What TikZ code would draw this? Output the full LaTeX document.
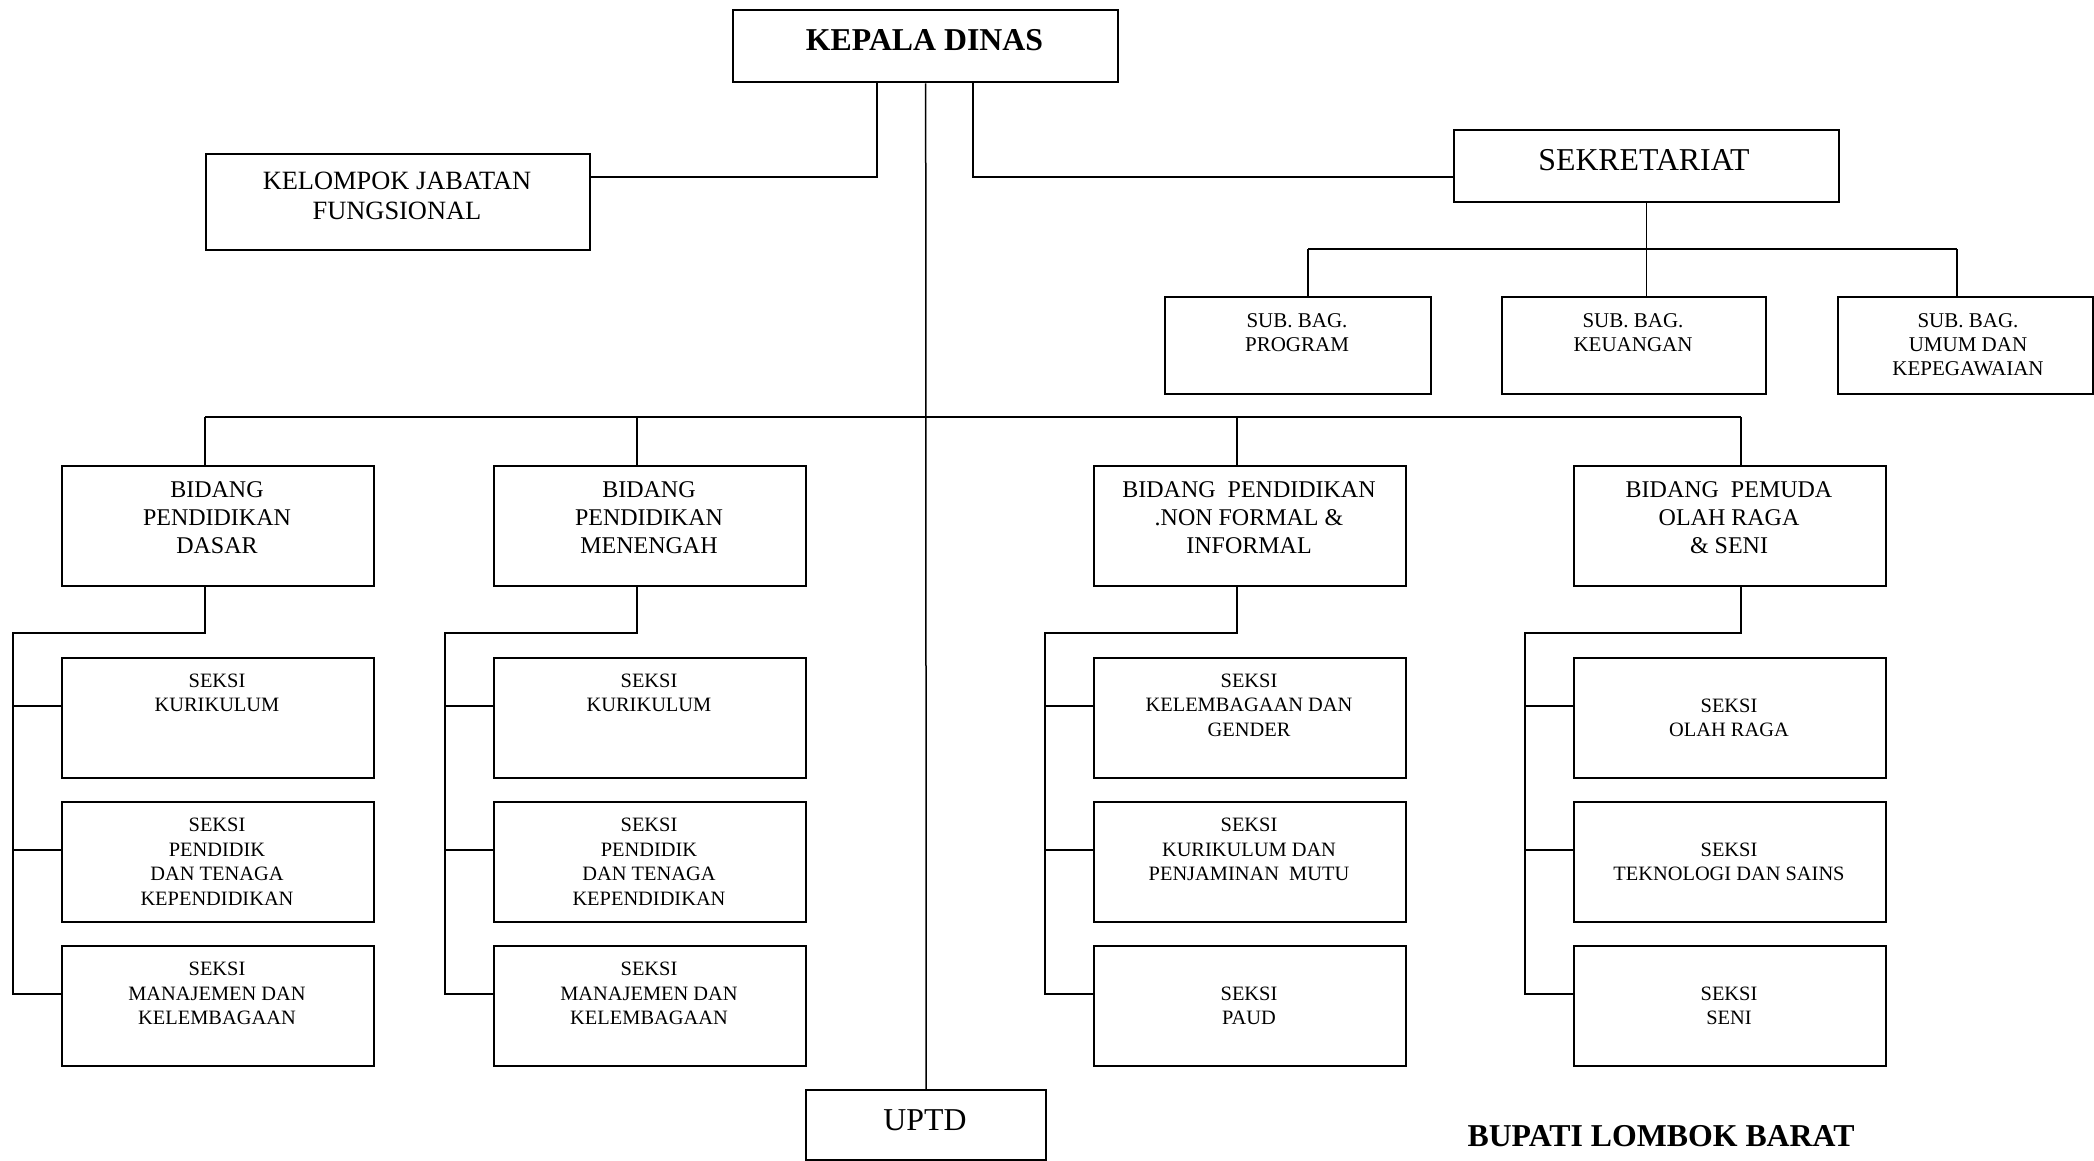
\documentclass[tikz,border=0pt]{standalone}
\usepackage{fontspec}
\setmainfont{Liberation Serif}
\newcommand{\obox}[5]{\node[box, minimum width={(#4-#2)*0.5pt}, minimum height={(#5-#3)*0.5pt}, anchor=north west] (#1) at (#2,#3) {};}
\begin{document}
\begin{tikzpicture}[x=0.5pt,y=-0.5pt,
  box/.style={draw, line width=1.2pt, inner sep=0pt, rectangle},
  conn/.style={line width=1.1pt},
  thinl/.style={line width=0.75pt},
  txt/.style={inner sep=0pt, align=center, anchor=north},
  seks/.style={txt, font=\fontsize{10.2}{12.3}\selectfont},
  bid/.style={txt, font=\fontsize{12}{13.85}\selectfont},
  subb/.style={txt, font=\fontsize{10.5}{12.1}\selectfont},
  kjf/.style={txt, font=\fontsize{13.2}{15.3}\selectfont},
  big/.style={txt, font=\fontsize{15.9}{18}\selectfont},
  bigb/.style={txt, font=\fontsize{15.9}{18}\selectfont\bfseries},
]
\useasboundingbox (0,0) rectangle (2094,1161);

% boxes
\obox{KD}{732}{9}{1117}{81}
\obox{KJF}{205}{153}{589}{249}
\obox{SEK}{1453}{129}{1838}{201}
\obox{SubProg}{1164}{296}{1430}{393}
\obox{SubKeu}{1501}{296}{1765}{393}
\obox{SubUmum}{1837}{296}{2092}{393}
\obox{Dasar}{61}{465}{373}{585}
\obox{Men}{493}{465}{805}{585}
\obox{NF}{1093}{465}{1405}{585}
\obox{Pem}{1573}{465}{1885}{585}
\obox{DasarA}{61}{657}{373}{777}
\obox{DasarB}{61}{801}{373}{921}
\obox{DasarC}{61}{945}{373}{1065}
\obox{MenA}{493}{657}{805}{777}
\obox{MenB}{493}{801}{805}{921}
\obox{MenC}{493}{945}{805}{1065}
\obox{NFA}{1093}{657}{1405}{777}
\obox{NFB}{1093}{801}{1405}{921}
\obox{NFC}{1093}{945}{1405}{1065}
\obox{PemA}{1573}{657}{1885}{777}
\obox{PemB}{1573}{801}{1885}{921}
\obox{PemC}{1573}{945}{1885}{1065}
\obox{UPTD}{805}{1089}{1045}{1159}

% texts
\node[bigb] (tKD) at (924.5,29.5) {KEPALA DINAS};
\node[kjf] (tKJF) at (397,171.3) {KELOMPOK JABATAN\\FUNGSIONAL};
\node[big] (tSEK) at (1644,148.8) {SEKRETARIAT};
\node[subb] (tSP) at (1297,313) {SUB. BAG.\\PROGRAM};
\node[subb] (tSK) at (1633,313) {SUB. BAG.\\KEUANGAN};
\node[subb] (tSU) at (1968,313) {SUB. BAG.\\UMUM DAN\\KEPEGAWAIAN};
\node[bid] (tDasar) at (217,481.4) {BIDANG\\PENDIDIKAN\\DASAR};
\node[bid] (tMen) at (649,481.4) {BIDANG\\PENDIDIKAN\\MENENGAH};
\node[bid] (tNF) at (1249,481.4) {BIDANG\ \ PENDIDIKAN\\.NON FORMAL \&\\INFORMAL};
\node[bid] (tPem) at (1729,481.4) {BIDANG\ \ PEMUDA\\OLAH RAGA\\\& SENI};
\node[seks] (tDA) at (217,673.4) {SEKSI\\KURIKULUM};
\node[seks] (tDB) at (217,817.5) {SEKSI\\PENDIDIK\\DAN TENAGA\\KEPENDIDIKAN};
\node[seks] (tDC) at (217,961.6) {SEKSI\\MANAJEMEN DAN\\KELEMBAGAAN};
\node[seks] (tMA) at (649,673.4) {SEKSI\\KURIKULUM};
\node[seks] (tMB) at (649,817.5) {SEKSI\\PENDIDIK\\DAN TENAGA\\KEPENDIDIKAN};
\node[seks] (tMC) at (649,961.6) {SEKSI\\MANAJEMEN DAN\\KELEMBAGAAN};
\node[seks] (tNA) at (1249,673.4) {SEKSI\\KELEMBAGAAN DAN\\GENDER};
\node[seks] (tNB) at (1249,817.5) {SEKSI\\KURIKULUM DAN\\PENJAMINAN\ \ MUTU};
\node[seks] (tNC) at (1249,986.4) {SEKSI\\PAUD};
\node[seks] (tPA) at (1729,698.2) {SEKSI\\OLAH RAGA};
\node[seks] (tPB) at (1729,842.3) {SEKSI\\TEKNOLOGI DAN SAINS};
\node[seks] (tPC) at (1729,986.4) {SEKSI\\SENI};
\node[big] (tUPTD) at (925,1109) {UPTD};
\node[bigb] (bupati) at (1661,1125) {BUPATI LOMBOK BARAT};

% connectors from Kepala Dinas
\coordinate (kdL) at (877,177);
\coordinate (kdR) at (973,177);
\draw[conn] (KD.south -| kdL) -- (kdL) -- (KJF.east |- kdL);
\draw[conn] (KD.south -| kdR) -- (kdR) -- (SEK.west |- kdR);
\draw[thinl] (KD.south) -- (UPTD.north);

% sekretariat
\coordinate (sb1) at (1308,249);
\coordinate (sb3) at (1957,249);
\draw[thinl] (SEK.south) -- (SubKeu.north -| SEK.south);
\draw[conn] (sb1) -- (sb3);
\draw[thinl] (sb1) -- (SubProg.north -| sb1);
\draw[thinl] (sb3) -- (SubUmum.north -| sb3);

% bidang bus
\coordinate (bus1) at (205,417);
\coordinate (bus2) at (637,417);
\coordinate (bus3) at (1237,417);
\coordinate (bus4) at (1741,417);
\draw[conn] (bus1) -- (bus4);
\draw[conn] (bus1) -- (Dasar.north -| bus1);
\draw[thinl] (bus2) -- (Men.north -| bus2);
\draw[thinl] (bus3) -- (NF.north -| bus3);
\draw[thinl] (bus4) -- (Pem.north -| bus4);

% branches
\coordinate (d1) at (205,633);  \coordinate (d2) at (12.6,633);
\coordinate (m1) at (637,633);  \coordinate (m2) at (444.8,633);
\coordinate (n1) at (1237,633); \coordinate (n2) at (1044.7,633);
\coordinate (p1) at (1741,633); \coordinate (p2) at (1524.7,633);

\draw[conn] (Dasar.south -| d1) -- (d1) -- (d2) |- ([yshift=6pt]DasarC.west);
\draw[conn] (d2) |- ([yshift=6pt]DasarA.west);
\draw[conn] (d2) |- ([yshift=6pt]DasarB.west);

\draw[conn] (Men.south -| m1) -- (m1) -- (m2) |- ([yshift=6pt]MenC.west);
\draw[conn] (m2) |- ([yshift=6pt]MenA.west);
\draw[conn] (m2) |- ([yshift=6pt]MenB.west);

\draw[conn] (NF.south -| n1) -- (n1) -- (n2) |- ([yshift=6pt]NFC.west);
\draw[conn] (n2) |- ([yshift=6pt]NFA.west);
\draw[conn] (n2) |- ([yshift=6pt]NFB.west);

\draw[conn] (Pem.south -| p1) -- (p1) -- (p2) |- ([yshift=6pt]PemC.west);
\draw[conn] (p2) |- ([yshift=6pt]PemA.west);
\draw[conn] (p2) |- ([yshift=6pt]PemB.west);
\end{tikzpicture}
\end{document}
